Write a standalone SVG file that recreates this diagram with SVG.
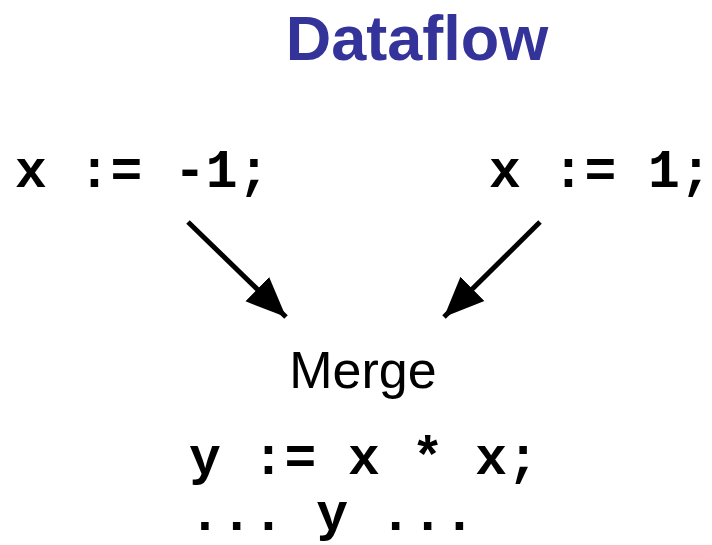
<svg xmlns="http://www.w3.org/2000/svg" width="712" height="545" viewBox="0 0 712 545">
<style>
.code{font-family:"Liberation Mono","Courier New",monospace;font-weight:bold;font-size:53px;fill:#000;white-space:pre}
.title{font-family:"Liberation Sans",Arial,sans-serif;font-weight:bold;font-size:63px;fill:#333399}
.lbl{font-family:"Liberation Sans",Arial,sans-serif;font-size:52px;fill:#000}
.edge{stroke:#000;stroke-width:5;fill:none;marker-end:url(#ah)}
</style>
<defs>
<marker id="ah" markerUnits="userSpaceOnUse" markerWidth="44" markerHeight="44" viewBox="0 0 44 44" refX="40" refY="22" orient="auto">
<path d="M0,5 L40,22 L0,39 Z" fill="#000"/>
</marker>
</defs>
<rect width="712" height="545" fill="#fff"/>
<g id="title"><text class="title" x="417" y="60" text-anchor="middle">Dataflow</text></g>
<g id="left"><text class="code" x="15" y="187" xml:space="preserve">x := -1;</text></g>
<g id="right"><text class="code" x="489" y="187" xml:space="preserve">x := 1;</text></g>
<g id="merge"><text class="lbl" x="363" y="388" text-anchor="middle">Merge</text></g>
<g id="body">
<text class="code" x="189" y="474" xml:space="preserve">y := x * x;</text>
<text class="code" x="189" y="530" xml:space="preserve">... y ...</text>
</g>
<g id="connectors">
<line class="edge" x1="188" y1="222" x2="286" y2="317"/>
<line class="edge" x1="540" y1="222" x2="444" y2="317"/>
</g>
</svg>
